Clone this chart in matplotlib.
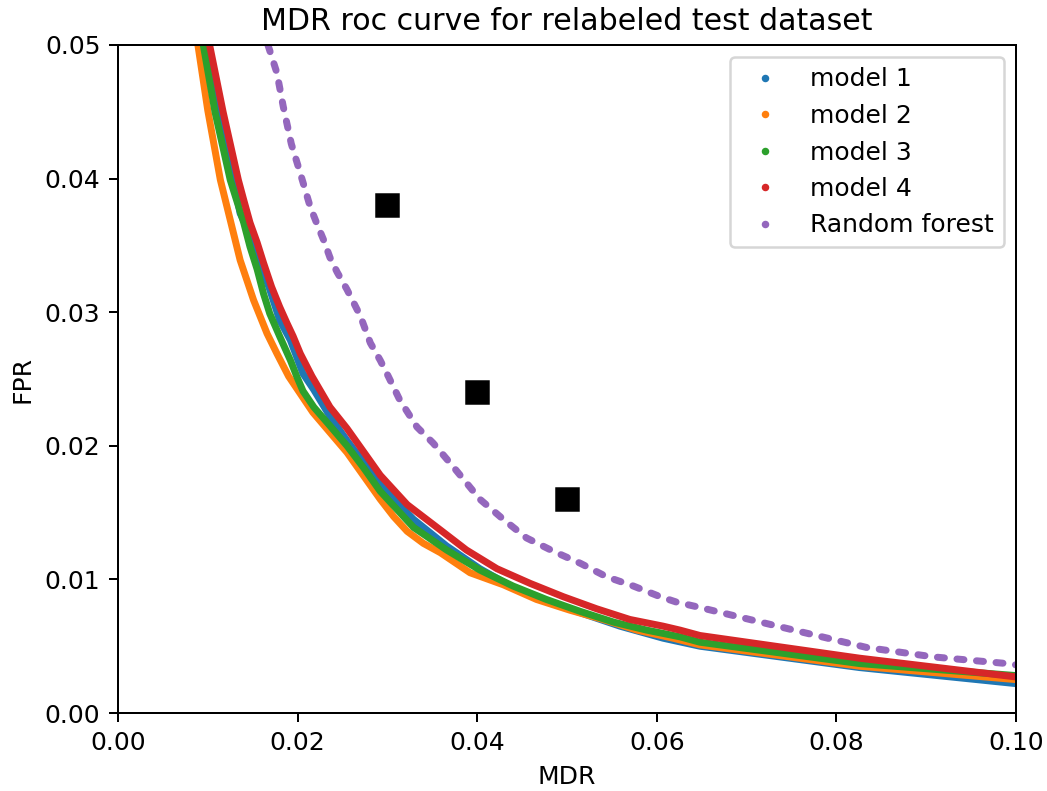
import matplotlib
matplotlib.use("Agg")
import matplotlib.pyplot as plt
from matplotlib.lines import Line2D

# values (MDR, FPR)
m1_mdr = [0.0099, 0.0113, 0.0131, 0.0136, 0.0147, 0.0158, 0.0169, 0.0180, 0.0192, 0.0206, 0.0218,
          0.0236, 0.0255, 0.0273, 0.0292, 0.0329, 0.0366, 0.0403, 0.0440, 0.0477, 0.0515, 0.0559,
          0.0607, 0.0648, 0.0826, 0.1000]
m1_fpr = [0.0500, 0.0450, 0.0391, 0.0374, 0.0359, 0.0337, 0.0317, 0.0294, 0.0279, 0.0254, 0.0242,
          0.0222, 0.0204, 0.0188, 0.0171, 0.0145, 0.0125, 0.0108, 0.0094, 0.0084, 0.0075, 0.0065,
          0.0056, 0.0050, 0.0034, 0.0022]

m2_mdr = [0.0089, 0.0100, 0.0114, 0.0125, 0.0136, 0.0151, 0.0166, 0.0177, 0.0190, 0.0217, 0.0255,
          0.0292, 0.0307, 0.0322, 0.0340, 0.0359, 0.0392, 0.0429, 0.0466, 0.0503, 0.0540, 0.0578,
          0.0618, 0.0648, 0.0826, 0.1000]
m2_fpr = [0.0500, 0.0451, 0.0399, 0.0369, 0.0339, 0.0309, 0.0284, 0.0269, 0.0252, 0.0225, 0.0195,
          0.0160, 0.0147, 0.0136, 0.0127, 0.0120, 0.0105, 0.0096, 0.0085, 0.0077, 0.0070, 0.0062,
          0.0056, 0.0051, 0.0035, 0.0025]

m3_mdr = [0.0095, 0.0108, 0.0125, 0.0132, 0.0140, 0.0147, 0.0155, 0.0162, 0.0169, 0.0180, 0.0192,
          0.0199, 0.0206, 0.0218, 0.0236, 0.0255, 0.0273, 0.0292, 0.0329, 0.0366, 0.0403, 0.0440,
          0.0477, 0.0515, 0.0552, 0.0589, 0.0626, 0.0648, 0.0826, 0.1000]
m3_fpr = [0.0500, 0.0450, 0.0399, 0.0384, 0.0367, 0.0349, 0.0332, 0.0314, 0.0299, 0.0282, 0.0264,
          0.0252, 0.0241, 0.0229, 0.0215, 0.0200, 0.0184, 0.0166, 0.0139, 0.0122, 0.0107, 0.0095,
          0.0085, 0.0076, 0.0068, 0.0062, 0.0057, 0.0053, 0.0037, 0.0028]

m4_mdr = [0.0102, 0.0117, 0.0134, 0.0140, 0.0147, 0.0155, 0.0162, 0.0171, 0.0180, 0.0188, 0.0195,
          0.0203, 0.0216, 0.0236, 0.0255, 0.0273, 0.0292, 0.0322, 0.0359, 0.0388, 0.0422, 0.0459,
          0.0496, 0.0533, 0.0570, 0.0607, 0.0626, 0.0648, 0.0826, 0.1000]
m4_fpr = [0.0500, 0.0450, 0.0399, 0.0384, 0.0367, 0.0352, 0.0337, 0.0319, 0.0304, 0.0292, 0.0282,
          0.0269, 0.0252, 0.0229, 0.0213, 0.0196, 0.0178, 0.0156, 0.0137, 0.0122, 0.0108, 0.0097,
          0.0087, 0.0078, 0.0070, 0.0065, 0.0062, 0.0058, 0.0041, 0.0027]

rf_mdr = [0.0167, 0.0177, 0.0184, 0.0193, 0.0203, 0.0214, 0.0221, 0.0229, 0.0236, 0.0244, 0.0255,
          0.0270, 0.0281, 0.0292, 0.0301, 0.0314, 0.0333, 0.0351, 0.0370, 0.0392, 0.0403, 0.0429,
          0.0455, 0.0485, 0.0515, 0.0544, 0.0574, 0.0604, 0.0622, 0.0648, 0.0759, 0.0834, 0.0908,
          0.0990, 0.1000]
rf_fpr = [0.0500, 0.0479, 0.0454, 0.0426, 0.0404, 0.0379, 0.0367, 0.0354, 0.0341, 0.0330, 0.0317,
          0.0297, 0.0277, 0.0264, 0.0252, 0.0234, 0.0214, 0.0202, 0.0187, 0.0169, 0.0160, 0.0145,
          0.0131, 0.0121, 0.0112, 0.0102, 0.0095, 0.0087, 0.0083, 0.0079, 0.0061, 0.0049, 0.0042,
          0.0037, 0.0036]

baseline_mdr = [0.03, 0.04, 0.05]
baseline_fpr = [0.038, 0.024, 0.016]

series = [
    ("model 1", m1_mdr, m1_fpr, "tab:blue"),
    ("model 2", m2_mdr, m2_fpr, "tab:orange"),
    ("model 3", m3_mdr, m3_fpr, "tab:green"),
    ("model 4", m4_mdr, m4_fpr, "tab:red"),
]

W, H, DPI = 1047, 791, 180
fig = plt.figure(figsize=(W / DPI, H / DPI), dpi=DPI)
ax = fig.add_axes([118 / W, 78 / H, 898 / W, 668 / H])

handles = []
for name, x, y, c in series:
    ax.plot(x, y, color=c, lw=2.8, solid_capstyle="round", solid_joinstyle="round")
    handles.append(Line2D([], [], marker=".", ls="none", color=c, ms=4, label=name))

rf_line, = ax.plot(rf_mdr, rf_fpr, color="tab:purple", lw=2.8, dash_capstyle="round")
rf_line.set_dashes((1.0, 1.8))
handles.append(Line2D([], [], marker=".", ls="none", color="tab:purple", ms=4, label="Random forest"))

ax.plot(baseline_mdr, baseline_fpr, "s", color="black", ms=9)

ax.set_xlim(0, 0.1)
ax.set_ylim(0, 0.05)
ax.set_xlabel("MDR")
ax.set_ylabel("FPR")
ax.set_title("MDR roc curve for relabeled test dataset")
ax.legend(handles=handles, loc="upper right")

fig.savefig("out.png", dpi=DPI)
